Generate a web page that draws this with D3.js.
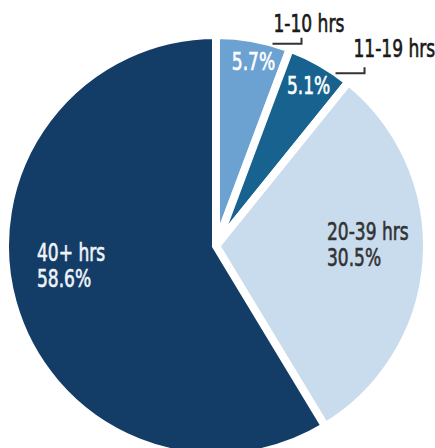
<!DOCTYPE html>
<html>
<head>
<meta charset="utf-8">
<script src="https://cdn.jsdelivr.net/npm/d3@7"></script>
<style>
  body { margin: 0; background: #fff; }
  text { font-family: "DejaVu Sans Condensed", "DejaVu Sans", sans-serif; font-stretch: condensed; font-size: 24px; stroke-width: 0.6px; }
</style>
</head>
<body>
<script>
// data
var categories = ["1-10 hrs", "11-19 hrs", "20-39 hrs", "40+ hrs"];
var values = [5.7, 5.1, 30.5, 58.6];
var valueLabels = ["5.7%", "5.1%", "30.5%", "58.6%"];
var colors = ["#6ca2d2", "#17628f", "#c9dcee", "#133d67"];

function draw_pie() {
  var width = 435, height = 448;
  var cx = 216, cy = 246, radius = 211;
  var squeeze = 0.79; // the original font is a narrow one

  var svg = d3.select("body").append("svg")
    .attr("width", width)
    .attr("height", height);

  var g = svg.append("g").attr("transform", "translate(" + cx + "," + cy + ")");

  var pie = d3.pie().sort(null).value(function(d){ return d; });
  var arcs = pie(values);

  var arc = d3.arc().innerRadius(0).outerRadius(radius);

  g.selectAll("path.slice")
    .data(arcs)
    .enter()
    .append("path")
    .attr("class", "slice")
    .attr("d", arc)
    .attr("fill", function(d, i){ return colors[i]; })
    .attr("stroke", "#fff")
    .attr("stroke-width", 8)
    .attr("stroke-linejoin", "miter");

  // point on a slice: angle as fraction of the slice, radius
  function polar(d, t, r) {
    var a = d.startAngle + (d.endAngle - d.startAngle) * t;
    return [Math.sin(a) * r, -Math.cos(a) * r];
  }

  function label(x, y, lines, fill, anchor) {
    var t = g.append("g")
      .attr("transform", "translate(" + x + "," + y + ") scale(" + squeeze + ",1)")
      .append("text")
      .attr("fill", fill)
      .attr("stroke", fill)
      .attr("text-anchor", anchor || "start");
    lines.forEach(function(s, k) {
      t.append("tspan").attr("x", 0).attr("y", k * 26).text(s);
    });
  }

  // value labels inside the two small slices
  var inner = [
    {i: 0, t: 0.56, r: 188},
    {i: 1, t: 0.516, r: 185}
  ];
  inner.forEach(function(s) {
    var p = polar(arcs[s.i], s.t, s.r);
    label(p[0], p[1] + 8, [valueLabels[s.i]], "#fff", "middle");
  });

  // category labels with leader lines for the small slices
  var outer = [
    {i: 0, t: 0.76, dx: 1, dy: -12},
    {i: 1, t: 0.77, dx: 18, dy: -16}
  ];
  outer.forEach(function(s) {
    var p = polar(arcs[s.i], s.t, radius - 1);
    g.append("path")
      .attr("d", "M" + p[0] + "," + p[1] + "h29v-6")
      .attr("fill", "none")
      .attr("stroke", "#333")
      .attr("stroke-width", 2);
    label(p[0] + s.dx, p[1] + s.dy, [categories[s.i]], "#1a1a1a");
  });

  // two-line labels inside the big slices
  label(111, -6, [categories[2], valueLabels[2]], "#333");
  label(-179, 15, [categories[3], valueLabels[3]], "#f0f3f7");
}

draw_pie();
</script>
</body>
</html>
